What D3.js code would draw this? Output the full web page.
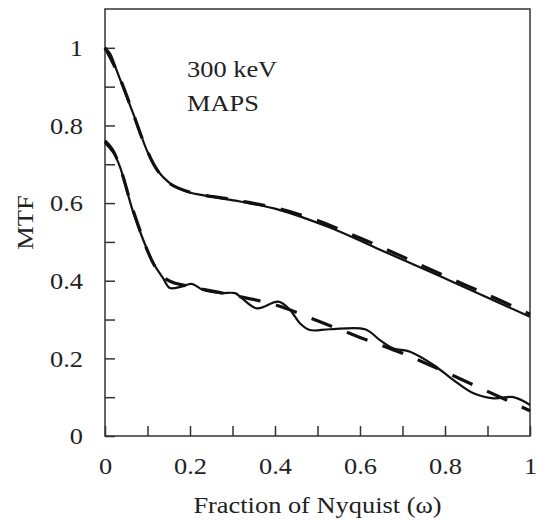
<!DOCTYPE html>
<html lang="en">
<head>
<meta charset="utf-8">
<title>MTF 300 keV MAPS</title>
<script src="https://cdn.jsdelivr.net/npm/d3@7/dist/d3.min.js"></script>
<style>
body{margin:0;background:#fff;}
svg text{font-family:"Liberation Serif","Times New Roman",serif;fill:#222;}
</style>
</head>
<body>
<div id="chart"></div>
<script>
// values
var upperSolidX = [0, 0.012, 0.027, 0.051, 0.075, 0.098, 0.122, 0.153, 0.192, 0.247, 0.318, 0.412, 0.529, 0.647, 0.812, 1.0];
var upperSolidY = [1.0, 0.985, 0.943, 0.874, 0.806, 0.737, 0.686, 0.651, 0.630, 0.617, 0.604, 0.582, 0.537, 0.480, 0.400, 0.307];

var upperDashX = [0, 0.03, 0.06, 0.09, 0.12, 0.15, 0.2, 0.3, 0.4, 0.5, 0.6, 0.7, 0.8, 0.9, 1.0];
var upperDashY = [1.0, 0.935, 0.85, 0.76, 0.69, 0.652, 0.628, 0.609, 0.588, 0.555, 0.51, 0.462, 0.412, 0.364, 0.314];

var lowerSolidX = [0, 0.02, 0.035, 0.051, 0.067, 0.09, 0.114, 0.137, 0.153, 0.18, 0.204, 0.231, 0.271, 0.306, 0.322, 0.357, 0.408, 0.435, 0.459, 0.482, 0.529, 0.612, 0.647, 0.678, 0.718, 0.773, 0.82, 0.867, 0.914, 0.961, 1.0];
var lowerSolidY = [0.755, 0.729, 0.694, 0.634, 0.574, 0.505, 0.445, 0.406, 0.381, 0.385, 0.392, 0.376, 0.368, 0.368, 0.355, 0.329, 0.346, 0.325, 0.29, 0.273, 0.275, 0.275, 0.247, 0.226, 0.217, 0.183, 0.144, 0.11, 0.097, 0.1, 0.08];

var lowerDashX = [0, 0.02, 0.04, 0.06, 0.08, 0.1, 0.12, 0.15, 0.2, 0.3, 0.4, 0.5, 0.6, 0.7, 0.8, 0.9, 1.0];
var lowerDashY = [0.76, 0.733, 0.677, 0.602, 0.537, 0.477, 0.433, 0.40, 0.385, 0.363, 0.338, 0.297, 0.254, 0.213, 0.165, 0.115, 0.065];

var xTicks = [0, 0.1, 0.2, 0.3, 0.4, 0.5, 0.6, 0.7, 0.8, 0.9, 1];
var yTicks = [0, 0.1, 0.2, 0.3, 0.4, 0.5, 0.6, 0.7, 0.8, 0.9, 1];
var labelTicks = [0, 0.2, 0.4, 0.6, 0.8, 1];

var width = 538, height = 520;
var mLeft = 105, mRight = 530, mTop = 9, mBottom = 436;
var stretch = "scale(1.1,1)"; // glyphs in the figure are a bit wider than Times

var svg = d3.select("#chart").append("svg")
    .attr("width", width)
    .attr("height", height);

var x = d3.scaleLinear().domain([0, 1]).range([mLeft, mRight]);
var y = d3.scaleLinear().domain([0, 1.1]).range([mBottom, mTop]);

function fmt(d){
  if(labelTicks.indexOf(Math.round(d*10)/10) < 0) return "";
  return d3.format("~g")(d);
}

// axes, ticks pointing inside
var gx = svg.append("g")
    .attr("transform", "translate(0," + mBottom + ")")
    .call(d3.axisBottom(x).tickValues(xTicks).tickFormat(fmt)
      .tickSizeInner(-10).tickSizeOuter(0).tickPadding(21));
var gy = svg.append("g")
    .attr("transform", "translate(" + mLeft + ",0)")
    .call(d3.axisLeft(y).tickValues(yTicks).tickFormat(fmt)
      .tickSizeInner(-10).tickSizeOuter(0).tickPadding(20));

[gx, gy].forEach(function(g){
  g.select(".domain").remove();
  g.selectAll(".tick line").attr("stroke", "#333").attr("stroke-width", 1.5);
  g.selectAll(".tick text").attr("font-size", 24).attr("fill", "#222")
    .attr("transform", stretch)
    .style("font-family", "'Liberation Serif','Times New Roman',serif");
});

// frame
svg.append("rect")
    .attr("x", mLeft).attr("y", mTop)
    .attr("width", mRight - mLeft).attr("height", mBottom - mTop)
    .attr("fill", "none").attr("stroke", "#333").attr("stroke-width", 1.5);

var line = d3.line()
    .x(function(d){ return x(d[0]); })
    .y(function(d){ return y(d[1]); })
    .curve(d3.curveCatmullRom.alpha(0.5));

function pairs(xs, ys){ return xs.map(function(v, i){ return [v, ys[i]]; }); }

var series = [
  {d: pairs(upperDashX, upperDashY), dash: "22,16", w: 3.2},
  {d: pairs(lowerDashX, lowerDashY), dash: "22,16", w: 3.2},
  {d: pairs(upperSolidX, upperSolidY), dash: null, w: 2.2},
  {d: pairs(lowerSolidX, lowerSolidY), dash: null, w: 2.2}
];

svg.selectAll("path.curve").data(series)
  .enter().append("path")
    .attr("class", "curve")
    .attr("d", function(s){ return line(s.d); })
    .attr("fill", "none")
    .attr("stroke", "#111")
    .attr("stroke-width", function(s){ return s.w; })
    .attr("stroke-dasharray", function(s){ return s.dash; });

// labels
function label(tx, ty, rot, anchor, str){
  svg.append("g")
      .attr("transform", "translate(" + tx + "," + ty + ")" + (rot ? " rotate(" + rot + ")" : "") + " " + stretch)
    .append("text")
      .attr("text-anchor", anchor).attr("font-size", 24)
      .text(str);
}
label((mLeft + mRight) / 2, 513, 0, "middle", "Fraction of Nyquist (\u03c9)");
label(33, (mTop + mBottom) / 2, -90, "middle", "MTF");
label(187, 77, 0, "start", "300 keV");
label(187, 111, 0, "start", "MAPS");
</script>
</body>
</html>
